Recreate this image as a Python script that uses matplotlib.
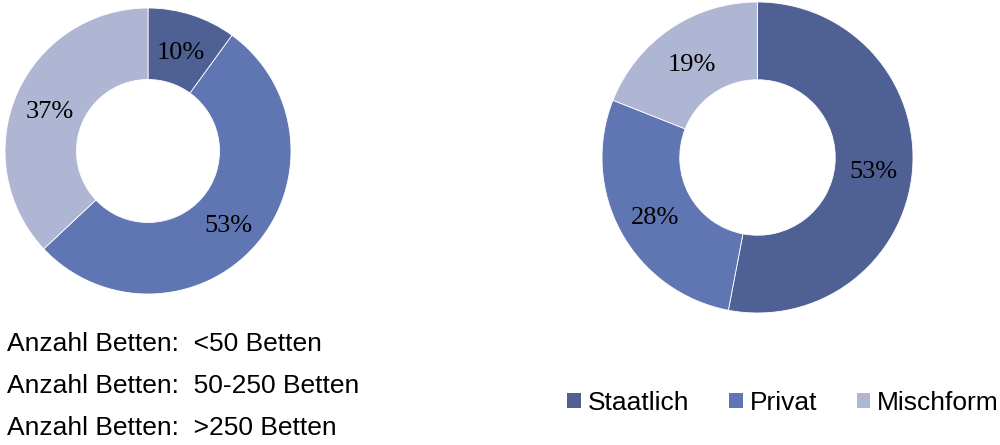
import matplotlib
matplotlib.use("Agg")
import matplotlib.pyplot as plt
import matplotlib.transforms as mtransforms
from matplotlib.patches import Patch

# Data
beds_labels = ["Anzahl Betten:  <50 Betten", "Anzahl Betten:  50-250 Betten", "Anzahl Betten:  >250 Betten"]
beds_values = [10, 53, 37]
owner_labels = ["Staatlich", "Privat", "Mischform"]
owner_values = [53, 28, 19]

colors = ["#4F6094", "#5F76B3", "#AEB6D3"]

W, H = 1000, 445
fig = plt.figure(figsize=(W / 100, H / 100), dpi=100)


def px_axes(x0, y0, x1, y1):
    return fig.add_axes([x0 / W, (H - y1) / H, (x1 - x0) / W, (y1 - y0) / H])


def donut(ax, values):
    wedges, texts, autotexts = ax.pie(
        values, colors=colors, startangle=90, counterclock=False, radius=1.0,
        autopct=lambda p: f"{p:.0f}%", pctdistance=0.75,
        wedgeprops=dict(width=0.5, edgecolor="white", linewidth=0.6),
        textprops=dict(family="Liberation Serif", fontsize=19, color="black"))
    for t in autotexts:
        t.set_transform(mtransforms.offset_copy(t.get_transform(), fig=fig, x=0, y=-4, units="dots"))
    ax.set_xlim(-1, 1)
    ax.set_ylim(-1, 1)
    ax.set_aspect("equal")
    ax.axis("off")
    return wedges


ax1 = px_axes(5, 8, 291, 294)
donut(ax1, beds_values)

ax2 = px_axes(602, 2, 913, 313)
donut(ax2, owner_values)

# Left legend (text only)
for i, lab in enumerate(beds_labels):
    fig.text(7 / W, 1 - (344 + 42 * i) / H, lab, ha="left", va="center",
             family="Liberation Sans", fontsize=19, color="black")

# Right legend
handles = [Patch(facecolor=c, edgecolor="none") for c in colors]
leg = fig.legend(handles, owner_labels, loc="center", bbox_to_anchor=(783 / W, 1 - 403 / H),
                 ncol=3, frameon=False, prop=dict(family="Liberation Sans", size=19),
                 handlelength=0.53, handleheight=0.53, handletextpad=0.25, columnspacing=1.5,
                 borderaxespad=0, borderpad=0)

fig.savefig("out.png", dpi=100, facecolor="white")
